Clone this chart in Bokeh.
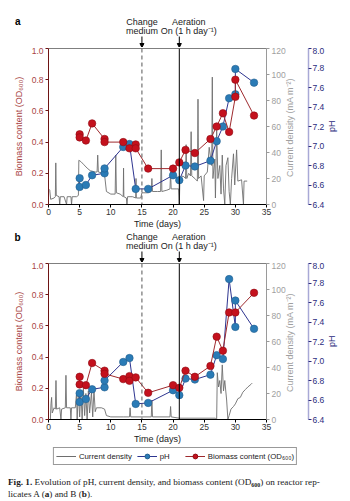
import math
from bokeh.plotting import figure
from bokeh.models import (Range1d, LinearAxis, Label, Arrow, NormalHead, Span,
                          FixedTicker, NumeralTickFormatter, Div, Legend, LegendItem)
from bokeh.layouts import column
from bokeh.embed import file_html
from bokeh.resources import INLINE

FONT = "Liberation Sans"

# ---------------- data ----------------
x_ticks = [0, 5, 10, 15, 20, 25, 30, 35]
bio_ticks = [0.0, 0.2, 0.4, 0.6, 0.8, 1.0]
cur_ticks = [0, 20, 40, 60, 80, 100, 120]
ph_ticks = [6.4, 6.6, 6.8, 7.0, 7.2, 7.4, 7.6, 7.8, 8.0]

event_days = [15, 21]
event_text_day = [15, 22.5]
event_line1 = ["Change", "Aeration"]
event_line2 = ["medium", "On (1 h day\u207b\u00b9)"]

# reactor A
day_bio_a = [5, 5, 6, 7, 9, 9, 12, 13, 14, 14, 16, 20, 21, 22, 23.5, 26, 27, 28, 29, 30, 30, 33]
bio_a = [0.45, 0.43, 0.41, 0.52, 0.42, 0.40, 0.40, 0.36, 0.385, 0.36, 0.23, 0.23, 0.27, 0.35,
         0.33, 0.42, 0.50, 0.585, 0.465, 0.69, 0.80, 0.57]
day_ph_a = [5, 5, 6, 7, 9, 9, 12, 13, 14, 16, 20, 21, 22, 23.5, 26, 27, 28, 29, 30, 30, 33]
ph_a = [6.67, 6.58, 6.60, 6.70, 6.72, 6.77, 6.99, 7.02, 6.56, 6.56, 6.70, 6.65, 6.80, 6.79,
        6.85, 7.05, 7.20, 7.49, 7.53, 7.79, 7.65]
day_cur_a = [0.0, 0.2, 0.35, 0.9, 1.1, 1.17, 1.25, 1.7, 1.8, 1.9, 2.5, 2.9, 3.0, 3.6, 3.7, 3.8,
             4.5, 4.8, 4.87, 5.2, 5.6, 6.2, 6.7, 7.5, 7.8, 7.9, 8.0, 8.8, 9.0, 9.3, 10.0, 10.7,
             10.8, 10.9, 11.5, 12.0, 12.05, 12.1, 12.5, 12.6, 12.7, 13.5, 14.0, 14.05, 14.1,
             14.8, 15.0, 16.0, 16.5, 16.6, 16.7, 17.5, 18.0, 18.1, 18.2, 19.0, 19.5, 19.6, 19.7,
             20.5, 20.9, 21.0, 21.1, 21.6, 22.0, 22.1, 22.2, 22.5, 22.8, 22.9, 23.0, 23.5, 23.9,
             24.0, 24.1, 24.5, 24.9, 25.0, 25.5, 25.8, 26.2, 26.3, 26.4, 26.7, 26.8, 27.0, 27.2,
             27.5, 27.7, 27.9, 28.1, 28.3, 28.5, 28.8, 29.0, 29.2, 29.4, 29.7, 29.9, 30.2, 30.4,
             31.0, 31.3, 31.4, 31.9]
cur_a = [12, 11, 4, 5, 6, 32, 7, 6, 0, 6, 6, 0, 6, 6, 0, 6,
         6, 7, 34, 33, 31, 28, 26, 25, 25, 38, 25, 24, 23, 10, 8, 8,
         38, 9, 8, 6, 28, 6, 5, 0, 6, 6, 5, 20, 5,
         5, 9, 9, 10, 20, 10, 10, 10, 42, 10, 11, 12, 25, 12,
         12, 12, 0, 20, 22, 20, 46, 20, 24, 22, 56, 22, 20, 18,
         81, 20, 22, 3, 22, 25, 44, 30, 98, 20, 35, 5, 57, 20,
         30, 8, 38, 12, 0, 30, 36, 10, 0, 20, 39, 15, 42, 18,
         19, 0, 18, 18]

# reactor B
day_bio_b = [5, 5, 6, 7, 9, 9, 12, 13, 13, 14, 16, 20, 21, 22, 23.5, 26, 27, 28, 29, 30, 33]
bio_b = [0.274, 0.225, 0.22, 0.362, 0.313, 0.293, 0.259, 0.278, 0.248, 0.27, 0.171, 0.22,
         0.203, 0.313, 0.274, 0.343, 0.531, 0.441, 0.686, 0.686, 0.812]
day_ph_b = [5, 5, 6, 7, 9, 9, 12, 13, 14, 16, 20, 21, 22, 23.5, 26, 27, 28, 29, 30, 30, 33]
ph_b = [6.67, 6.58, 6.61, 6.71, 6.73, 6.80, 6.99, 7.03, 6.56, 6.57, 6.70, 6.65, 6.82, 6.81,
        6.86, 7.06, 7.02, 7.84, 7.35, 7.62, 7.33]
day_cur_b = [0.3, 0.4, 0.5, 0.6, 0.9, 1.1, 1.2, 1.3, 1.8, 2.0, 2.1, 2.7, 2.8, 2.9, 3.5, 3.6,
             3.7, 4.3, 4.5, 4.6, 4.8, 5.0, 5.2, 5.4, 5.6, 5.8, 6.0, 6.2, 6.4, 6.6, 6.9, 7.1,
             7.3, 7.5, 7.7, 8.5, 9.0, 9.3, 10.0, 12.0, 13.0, 13.1, 13.2, 16.5, 16.6, 16.7,
             19.5, 19.6, 19.7, 21.0, 26.8, 27.0, 27.1, 27.3, 27.5, 27.7, 27.9, 28.1, 28.3,
             28.6, 28.8, 29.0, 29.3, 29.7, 30.0, 30.4, 30.8, 31.2, 31.6, 32.0, 32.5, 32.7]
cur_b = [0, 12, 17, 5, 9, 8, 30, 8, 9, 0, 8, 9, 34, 9, 9, 0,
         9, 9, 20, 0, 22, 2, 21, 0, 24, 3, 20, 0, 22, 5, 21, 2,
         23, 6, 9, 9, 8, 3, 2, 2, 2, 9, 2, 2, 15, 2,
         2, 10, 2, 1, 1, 0, 36, 25, 30, 20, 42, 22, 30,
         15, 0, 3, 8, 10, 12, 16, 17, 21, 23, 25, 27, 28]

# ---------------- styles ----------------
RED = "#c4111d"
RED_LINE = "#9e2a2e"
RED_EDGE = "#8f0c14"
BLUE = "#2a7bb6"
BLUE_LINE = "#2e3590"
BLUE_EDGE = "#23608f"
GRAY = "#6e6e6e"
BIO_AXIS = "#6e1414"
BIO_TXT = "#a84444"
CUR_TXT = "#a0a0a0"
PH_AXIS = "#a9a9d6"
PH_TXT = "#2c2c7e"

LEFT, FRAME_W, RIGHT = 48, 218, 84
X0, X1 = 0, 35
NB = "\u00a0"


def style_axis(ax, line_col, lab_col, font_size="8.5px", standoff=2, label_standoff=1):
    ax.axis_line_color = line_col
    ax.major_tick_line_color = line_col
    ax.major_tick_out = 3
    ax.major_tick_in = 0
    ax.minor_tick_line_color = None
    ax.major_label_standoff = standoff
    ax.major_label_text_font = FONT
    ax.major_label_text_font_size = font_size
    ax.major_label_text_color = lab_col
    ax.axis_label_standoff = label_standoff
    ax.axis_label_text_font = FONT
    ax.axis_label_text_font_size = "9px"
    ax.axis_label_text_font_style = "normal"
    ax.axis_label_text_color = lab_col


def make_strip(letter, h):
    """Annotation strip above a panel, sharing the panel's day scale."""
    s = figure(frame_width=FRAME_W, frame_height=h, x_range=Range1d(X0, X1),
               y_range=Range1d(h, 0), output_backend="svg", toolbar_location=None,
               x_axis_location=None, y_axis_location="left", min_border_left=LEFT,
               min_border_right=RIGHT, min_border_top=0, min_border_bottom=0)
    s.grid.visible = False
    s.outline_line_color = None
    ya = s.yaxis[0]
    ya.ticker = FixedTicker(ticks=[h - 26])
    ya.major_label_overrides = {h - 26: letter}
    ya.axis_line_color = None
    ya.major_tick_line_color = None
    ya.minor_tick_line_color = None
    ya.major_tick_out = 0
    ya.major_tick_in = 0
    ya.major_label_standoff = 28
    ya.major_label_text_font = FONT
    ya.major_label_text_font_size = "10px"
    ya.major_label_text_font_style = "bold"
    ya.major_label_text_color = "black"
    for d, xt, t1, t2 in zip(event_days, event_text_day, event_line1, event_line2):
        s.add_layout(Label(x=xt, y=h - 26, text=t1, text_align="center", text_baseline="middle",
                           text_font=FONT, text_font_size="9px", text_color="#222222"))
        s.add_layout(Label(x=xt, y=h - 16.5, text=t2, text_align="center",
                           text_baseline="middle", text_font=FONT, text_font_size="9px",
                           text_color="#222222"))
        s.add_layout(Arrow(end=NormalHead(size=4, fill_color="black", line_color="black"),
                           x_start=d, y_start=h - 11, x_end=d, y_end=h,
                           line_color="black", line_width=1))
    return s


def make_panel(dcur, cur, dph, ph, dbio, bio):
    p = figure(frame_width=FRAME_W, frame_height=156, x_range=Range1d(X0, X1),
               y_range=Range1d(0, 1), output_backend="svg", toolbar_location=None,
               min_border_left=LEFT, min_border_right=RIGHT, min_border_top=1,
               min_border_bottom=20)
    p.extra_y_ranges = {"cur": Range1d(0, 120), "ph": Range1d(6.4, 8.0)}
    p.grid.visible = False
    p.outline_line_color = None

    xa = p.xaxis[0]
    xa.ticker = FixedTicker(ticks=x_ticks)
    xa.axis_label = "Time (days)"
    style_axis(xa, "black", "#333333", standoff=1, label_standoff=1)
    xa.axis_label_text_color = "#222222"

    ya = p.yaxis[0]
    ya.ticker = FixedTicker(ticks=bio_ticks)
    ya.formatter = NumeralTickFormatter(format="0.0")
    ya.axis_label = "Biomass content (OD\u2086\u2080\u2080)"
    style_axis(ya, BIO_AXIS, BIO_TXT, standoff=2, label_standoff=5)

    # right-hand labels read bottom-to-top, starting from the axis' lower end
    ca = LinearAxis(y_range_name="cur", ticker=FixedTicker(ticks=cur_ticks),
                    axis_label=NB * 11 + "Current density (mA m\u207b\u00b2)")
    style_axis(ca, "#9a9a9a", CUR_TXT, standoff=2, label_standoff=1)
    ca.axis_label_orientation = math.pi / 2
    ca.axis_label_align = "start"
    p.add_layout(ca, "right")

    sp = LinearAxis(y_range_name="cur", ticker=FixedTicker(ticks=[0]),
                    major_label_overrides={0: ""})
    sp.axis_line_color = None
    sp.major_tick_line_color = None
    sp.minor_tick_line_color = None
    sp.major_tick_out = 6
    sp.major_tick_in = 0
    sp.major_label_standoff = 0
    p.add_layout(sp, "right")

    pa = LinearAxis(y_range_name="ph", ticker=FixedTicker(ticks=ph_ticks),
                    axis_label=NB * 29 + "pH")
    pa.formatter = NumeralTickFormatter(format="0.0")
    style_axis(pa, PH_AXIS, PH_TXT, standoff=1, label_standoff=5)
    pa.axis_line_width = 1.5
    pa.major_tick_line_color = PH_TXT
    pa.axis_label_orientation = math.pi / 2
    pa.axis_label_align = "start"
    p.add_layout(pa, "right")

    p.add_layout(Span(location=1.0, dimension="width", line_color="black", line_width=1))
    p.add_layout(Span(location=event_days[0], dimension="height", line_color="#555555",
                      line_width=1, line_dash="4 3"))
    p.add_layout(Span(location=event_days[1], dimension="height", line_color="black",
                      line_width=1))

    p.line(dcur, cur, y_range_name="cur", line_color=GRAY, line_width=0.9)
    p.line(dph, ph, y_range_name="ph", line_color=BLUE_LINE, line_width=1)
    p.scatter(dph, ph, y_range_name="ph", size=7.5, fill_color=BLUE, line_color=BLUE_EDGE,
              line_width=0.6)
    p.line(dbio, bio, line_color=RED_LINE, line_width=1)
    p.scatter(dbio, bio, size=7.5, fill_color=RED, line_color=RED_EDGE, line_width=0.6)
    return p


strip_a = make_strip("a", 47)
panel_a = make_panel(day_cur_a, cur_a, day_ph_a, ph_a, day_bio_a, bio_a)
strip_b = make_strip("b", 31)
panel_b = make_panel(day_cur_b, cur_b, day_ph_b, ph_b, day_bio_b, bio_b)

# ---------------- legend strip ----------------
lg = figure(frame_width=350, frame_height=20, x_range=Range1d(0, 1), y_range=Range1d(0, 1),
            output_backend="svg", toolbar_location=None, x_axis_location=None,
            y_axis_location=None, min_border=0)
lg.grid.visible = False
lg.outline_line_color = None
off = [-10, -9]
r_cur = lg.line(off, off, line_color=GRAY, line_width=1)
r_phl = lg.line(off, off, line_color=BLUE_LINE, line_width=1)
r_phm = lg.scatter(off, off, size=7.5, fill_color=BLUE, line_color=BLUE_EDGE)
r_bil = lg.line(off, off, line_color=RED_LINE, line_width=1)
r_bim = lg.scatter(off, off, size=7.5, fill_color=RED, line_color=RED_EDGE)
leg = Legend(items=[LegendItem(label="Current density", renderers=[r_cur]),
                    LegendItem(label="pH", renderers=[r_phl, r_phm]),
                    LegendItem(label="Biomass content (OD\u2086\u2080\u2080)",
                               renderers=[r_bil, r_bim])],
             orientation="horizontal", location="center", label_text_font=FONT,
             label_text_font_size="7.8px", label_text_color="#222222", glyph_width=20,
             glyph_height=12, label_standoff=3, spacing=5, padding=2, margin=0,
             label_height=12, border_line_color="#333333", border_line_width=1)
lg.add_layout(leg, "center")

cap = Div(text=('<div style="font-family:\'Liberation Serif\',serif;font-size:9.2px;line-height:12px;'
                'padding:10px 0 0 8px;white-space:nowrap;color:#1a1a1a;">'
                '<b>Fig. 1.</b> Evolution of pH, current density, and biomass content '
                '(OD<span style="font-size:6px;font-weight:bold;vertical-align:-2px;line-height:0;">600</span>)'
                ' on reactor rep-<br>licates A (<b>a</b>) and B (<b>b</b>).</div>'),
          width=350, height=35, margin=(0, 0, 0, 0))

layout = column(strip_a, panel_a, strip_b, panel_b, lg, cap, spacing=0)
open("out.html", "w").write(file_html(layout, INLINE))
